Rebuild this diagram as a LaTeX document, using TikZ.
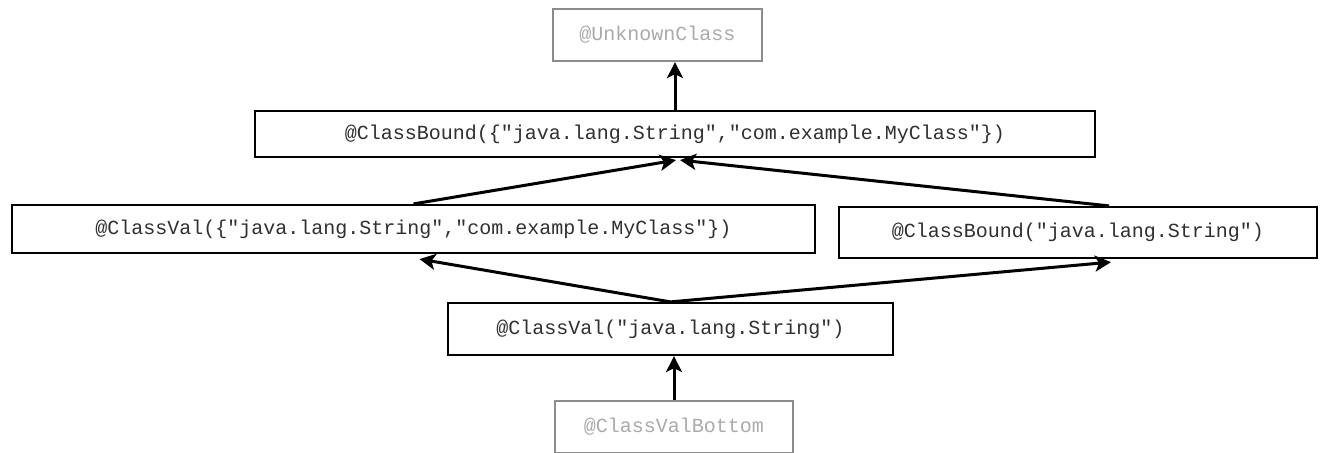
\documentclass[tikz,border=0pt]{standalone}
\usepackage{fontspec}
\setmonofont{Liberation Mono}
\usetikzlibrary{arrows.meta,calc}
\definecolor{boxgray}{HTML}{8C8C8C}
\definecolor{txtgray}{HTML}{ABABAB}
\definecolor{txtdark}{HTML}{303030}
\tikzset{
  typebox/.style={draw=black, line width=2.2pt, rectangle, inner sep=0pt,
    font=\ttfamily\fontsize{20}{24}\selectfont, text=txtdark},
  extremebox/.style={typebox, draw=boxgray, text=txtgray},
  subtype/.style={line width=3pt,
    -{Stealth[length=16pt,width=16pt,inset=4pt]}}
}
\begin{document}
\begin{tikzpicture}[x=1pt,y=-1pt]
\clip (0,0) rectangle (1321,452);
\fill[white] (0,0) rectangle (1321,452);

% lattice of qualifiers, top to bottom
\node[extremebox, minimum width=209pt, minimum height=52pt] (unk) at (657.5,35) {@UnknownClass};
\node[typebox, minimum width=840pt, minimum height=46pt] (cbtop) at (675,134)
  {@ClassBound(\{"java.lang.String","com.example.MyClass"\})};
\node[typebox, minimum width=803pt, minimum height=48pt] (cvl) at (413.5,229)
  {@ClassVal(\{"java.lang.String","com.example.MyClass"\})};
\node[typebox, minimum width=478pt, minimum height=51pt] (cbr) at (1078,232.5)
  {@ClassBound("java.lang.String")};
\node[typebox, minimum width=445pt, minimum height=52pt] (cvm) at (670.5,329)
  {@ClassVal("java.lang.String")};
\node[extremebox, minimum width=238pt, minimum height=52pt] (bot) at (674,427) {@ClassValBottom};

% subtype edges
\draw[subtype] (cbtop.north) -- (cbtop.north |- unk.south);
\draw[subtype] (cvl.north) -- ($(cbtop.south)+(1,2)$);
\draw[subtype] ($(cbr.north)+(31,0)$) -- ($(cbtop.south)+(5,2)$);
\draw[subtype] (cvm.north) -- ($(cvl.south)+(6,5)$);
\draw[subtype] (cvm.north) -- ($(cbr.south)+(33,3)$);
\draw[subtype] (bot.north) -- (bot.north |- cvm.south);
\end{tikzpicture}
\end{document}
